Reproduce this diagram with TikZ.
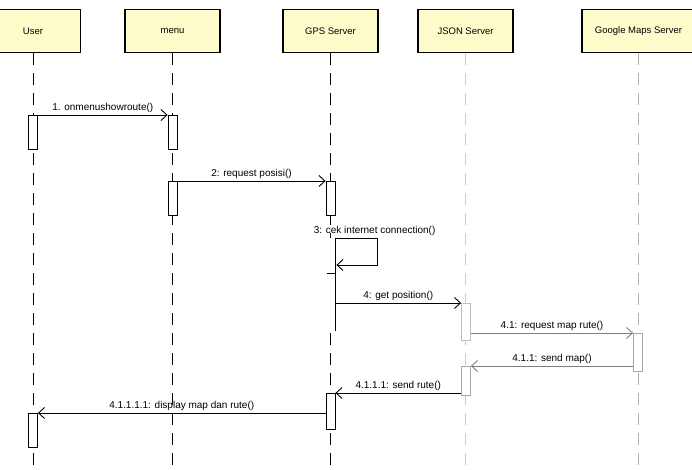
\documentclass[tikz,border=0pt]{standalone}
\usepackage{fontspec}
\setmainfont{Liberation Sans}
\usetikzlibrary{positioning, arrows.meta}
\tikzset{
x=1pt, y=-1pt, % one unit is one pixel of the picture, y runs down
obj/.style={draw, line width=1.6pt, fill=yellow!20, minimum width=95pt, minimum height=43pt, font=\fontsize{9.5}{10}\selectfont}, % the boxes on top
life/.style={dash pattern=on 12pt off 8pt, line width=0.9pt}, % lifelines
act/.style={draw, fill=white, minimum width=9pt, inner sep=0pt, anchor=north, line width=0.8pt}, % activation bars
msg/.style={-{Straight Barb[length=6pt, width=11pt]}, line width=0.9pt}, % messages
lbl/.style={above, font=\fontsize{10}{11}\selectfont, inner sep=2pt},
}

\begin{document}
\begin{tikzpicture}
            \useasboundingbox (0,0) rectangle (692,470);

            % objects
            \node[obj] (user) at (33,31) {User};
            \node[obj] (menu) at (172.5,31) {menu};
            \node[obj] (gps) at (330.5,31) {GPS Server};
            \node[obj] (json) at (465.5,31) {JSON Server};
            \node[obj, minimum width=113pt] (maps) at (638.5,31) {Google Maps Server};

            % lifelines
            \coordinate (userEnd) at (33,470);
            \coordinate (menuEnd) at (172.5,470);
            \coordinate (gpsEnd) at (330.5,470);
            \coordinate (jsonEnd) at (465.5,470);
            \coordinate (mapsEnd) at (638.5,470);
            \draw[life] (user) -- (userEnd);
            \draw[life] (menu) -- (menuEnd);
            \draw[life] (gps) -- (gpsEnd);
            \draw[life, gray!40] (json) -- (jsonEnd);
            \draw[life, gray!60] (maps) -- (mapsEnd);

            % activations
            \node[act, minimum height=34pt] (u1) at (33,115) {};
            \node[act, minimum height=34pt] (m1) at (172.5,115) {};
            \node[act, minimum height=34pt] (m2) at (172.5,181) {};
            \node[act, minimum height=34pt] (g1) at (330.5,181) {};
            \node[act, minimum height=92pt, minimum width=8pt, draw=none] (g2) at (331,238) {};
            \node[act, minimum height=37pt, draw=gray!50] (j1) at (466,303) {};
            \node[act, minimum height=38pt, draw=gray!70] (o1) at (638,333) {};
            \node[act, minimum height=29pt, draw=gray!70] (j2) at (466,366) {};
            \node[act, minimum height=36pt] (g3) at (330.5,393) {};
            \node[act, minimum height=34pt] (u2) at (33,413) {};
            \draw[line width=0.9pt] (g2.north east) -- (g2.south east);
            \draw[line width=0.9pt] ([yshift=-35pt]g2.north west) -- ([yshift=-35pt]g2.north east);

            % messages
            \draw[msg] (u1.north east) -- node[lbl]{1. onmenushowroute()} (m1.north west);
            \draw[msg] (m2.north east) -- node[lbl]{2: request posisi()} (g1.north west);
            \draw[msg] (g2.north east) -- node[lbl, pos=0, anchor=south west, xshift=-24pt]{3: cek internet connection()} ++(42,0) -- ++(0,27) -- ++(-41,0);
            \draw[msg] ([yshift=-65pt]g2.north east) -- node[lbl]{4: get position()} (j1.north west);
            \draw[msg, gray] ([yshift=-30pt]j1.north east) -- node[lbl, black]{4.1: request map rute()} (o1.north west);
            \draw[msg, gray] ([yshift=-33pt]o1.north west) -- node[lbl, black]{4.1.1: send map()} (j2.north east);
            \draw[msg] ([yshift=-27pt]j2.north west) -- node[lbl]{4.1.1.1: send rute()} (g3.north east);
            \draw[msg] ([yshift=-20pt]g3.north west) -- node[lbl]{4.1.1.1.1: display map dan rute()} (u2.north east);
        \end{tikzpicture}
\end{document}
